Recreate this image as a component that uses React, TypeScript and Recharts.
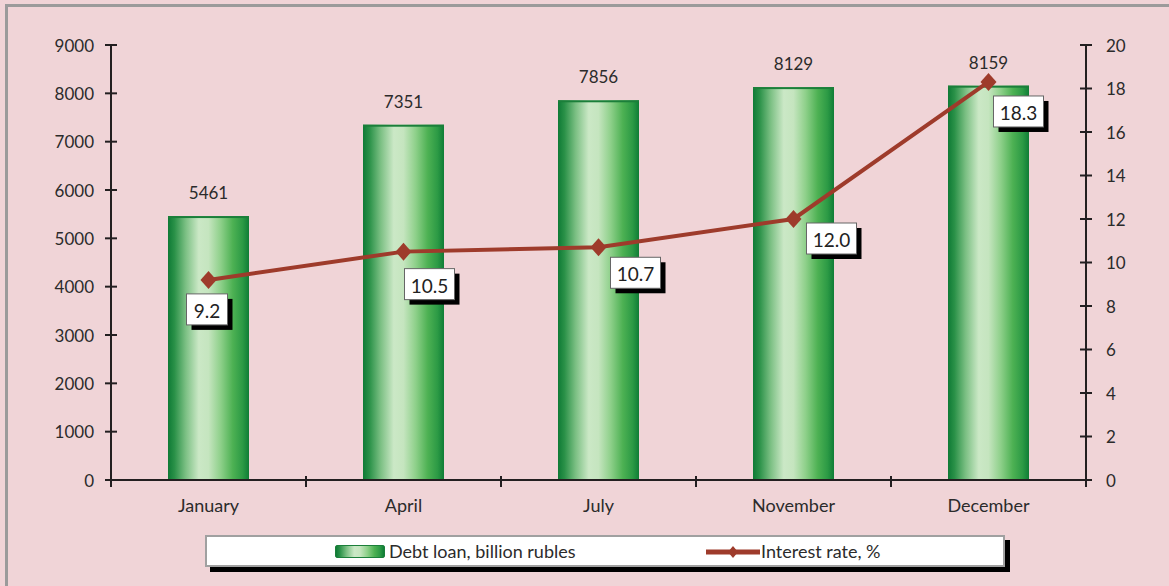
import React from 'react';
import { ComposedChart, Bar, Line, XAxis, YAxis, LabelList, Legend } from 'recharts';

const months = ['January', 'April', 'July', 'November', 'December'];
const debtLoan = [5461, 7351, 7856, 8129, 8159];
const interestRate = [9.2, 10.5, 10.7, 12.0, 18.3];
const leftTicks = [0, 1000, 2000, 3000, 4000, 5000, 6000, 7000, 8000, 9000];
const rightTicks = [0, 2, 4, 6, 8, 10, 12, 14, 16, 18, 20];

const data = months.map((m, i) => ({ month: m, debt: debtLoan[i], rate: interestRate[i] }));

// layout / style constants
const W = 1169;
const H = 586;
const PLOT_LEFT = 111;
const PLOT_RIGHT = 1086;
const PLOT_BOTTOM = 480;
const FONT = 'Lato, "Open Sans", sans-serif';
const BG = '#F0D4D7';
const LINE = '#9E3B2B';
const AXIS = '#231F20';
const TEXT = '#2B2B2B';
const LABEL_OFFSETS = [[-22, 14], [1, 17], [12, 10], [13, 4], [5, 14]];

const LeftTick = (props: any) => {
  const { y, payload } = props;
  return (
    <g>
      <line x1={PLOT_LEFT - 6} x2={PLOT_LEFT + 6} y1={y} y2={y} stroke={AXIS} strokeWidth={2} />
      <text x={PLOT_LEFT - 17} y={y} textAnchor="end" dominantBaseline="central" fontSize={17} fontFamily={FONT} fill={TEXT}>
        {payload.value}
      </text>
    </g>
  );
};

const RightTick = (props: any) => {
  const { y, payload } = props;
  return (
    <g>
      <line x1={PLOT_RIGHT - 6} x2={PLOT_RIGHT + 6} y1={y} y2={y} stroke={AXIS} strokeWidth={2} />
      <text x={PLOT_RIGHT + 20} y={y} textAnchor="start" dominantBaseline="central" fontSize={17} fontFamily={FONT} fill={TEXT}>
        {payload.value}
      </text>
    </g>
  );
};

const BottomTick = (props: any) => {
  const { x, payload, index } = props;
  const half = (PLOT_RIGHT - PLOT_LEFT) / months.length / 2;
  return (
    <g>
      <line x1={x + half} x2={x + half} y1={PLOT_BOTTOM - 4} y2={PLOT_BOTTOM + 7} stroke={AXIS} strokeWidth={2} />
      {index === 0 && (
        <line x1={x - half} x2={x - half} y1={PLOT_BOTTOM} y2={PLOT_BOTTOM + 7} stroke={AXIS} strokeWidth={2} />
      )}
      <text x={x} y={PLOT_BOTTOM + 25} textAnchor="middle" dominantBaseline="central" fontSize={18} fontFamily={FONT} fill={TEXT}>
        {payload.value}
      </text>
    </g>
  );
};

const BarShape = (props: any) => {
  const { x, y, width, height } = props;
  return (
    <g>
      <rect x={x} y={y} width={width} height={height} fill="url(#barGrad)" />
      <rect x={x} y={y} width={width} height={2} fill="#1B7F3A" />
    </g>
  );
};

const Diamond = (props: any) => {
  const { cx, cy } = props;
  if (cx == null || cy == null) return null;
  return <path d={`M${cx},${cy - 9}L${cx + 8},${cy}L${cx},${cy + 9}L${cx - 8},${cy}Z`} fill={LINE} />;
};

const RateLabel = (props: any) => {
  const { x, y, value } = props;
  let idx = props.index;
  if (idx == null) idx = interestRate.indexOf(Number(value));
  const off = LABEL_OFFSETS[idx] || [5, 10];
  const text = Number(value).toFixed(1);
  const w = text.length * 9 + 14;
  const h = 31;
  const bx = x + off[0];
  const by = y + off[1];
  return (
    <g>
      <rect x={bx + 5} y={by + 5} width={w} height={h} fill="#000" />
      <rect x={bx} y={by} width={w} height={h} fill="#fff" stroke="#666" strokeWidth={1} />
      <text x={bx + w / 2} y={by + h / 2 + 1} textAnchor="middle" dominantBaseline="central" fontSize={19} fontFamily={FONT} fill="#222">
        {text}
      </text>
    </g>
  );
};

const barGradientCss =
  'linear-gradient(to right, #0E7A35 0%, #2A9148 8%, #7CC084 22%, #CBE8C6 38%, #C5E5BF 50%, #8ED08A 65%, #4DB153 80%, #2C9A45 92%, #0F7D36 100%)';

const LegendBox = () => (
  <div style={{ position: 'relative', width: 805, height: 38, fontFamily: FONT }}>
    <div
      style={{
        position: 'absolute',
        left: 0,
        top: 0,
        width: 800,
        height: 32,
        background: '#fff',
        border: '2px solid #A0A0A0',
        boxSizing: 'border-box',
        boxShadow: '5px 5px 0 #000',
      }}
    />
    <div
      style={{
        position: 'absolute',
        left: 130,
        top: 10,
        width: 50,
        height: 13,
        background: barGradientCss,
        borderRadius: 2,
        border: '1px solid #1B7F3A',
        boxSizing: 'border-box',
      }}
    />
    <div style={{ position: 'absolute', left: 184, top: 5, fontSize: 18, color: TEXT, whiteSpace: 'nowrap', lineHeight: '22px' }}>
      Debt loan, billion rubles
    </div>
    <svg style={{ position: 'absolute', left: 501, top: 9 }} width={54} height={16}>
      <line x1={0} x2={54} y1={8} y2={8} stroke={LINE} strokeWidth={5} strokeLinecap="round" />
      <path d="M27,2L32,8L27,14L22,8Z" fill={LINE} />
    </svg>
    <div style={{ position: 'absolute', left: 556, top: 5, fontSize: 18, color: TEXT, whiteSpace: 'nowrap', lineHeight: '22px' }}>
      Interest rate, %
    </div>
  </div>
);

export default function App() {
  return (
    <div
      style={{
        position: 'absolute',
        left: 0,
        top: 0,
        width: W,
        height: H,
        background: BG,
        overflow: 'hidden',
        fontFamily: FONT,
      }}
    >
      <div
        style={{
          position: 'absolute',
          left: 5,
          top: 4,
          width: 1300,
          height: 800,
          borderLeft: '3px solid #9B9B9B',
          borderTop: '3px solid #9B9B9B',
        }}
      />
      <ComposedChart width={W} height={H} data={data} margin={{ top: 45, right: 0, bottom: 13, left: 0 }}>
        <defs>
          <linearGradient id="barGrad" x1="0" y1="0" x2="1" y2="0">
            <stop offset="0%" stopColor="#0E7A35" />
            <stop offset="8%" stopColor="#2A9148" />
            <stop offset="22%" stopColor="#7CC084" />
            <stop offset="38%" stopColor="#CBE8C6" />
            <stop offset="50%" stopColor="#C5E5BF" />
            <stop offset="65%" stopColor="#8ED08A" />
            <stop offset="80%" stopColor="#4DB153" />
            <stop offset="92%" stopColor="#2C9A45" />
            <stop offset="100%" stopColor="#0F7D36" />
          </linearGradient>
        </defs>
        <XAxis
          dataKey="month"
          interval={0}
          height={55}
          axisLine={{ stroke: AXIS, strokeWidth: 2 }}
          tickLine={false}
          tick={<BottomTick />}
        />
        <YAxis
          yAxisId="left"
          orientation="left"
          width={PLOT_LEFT}
          domain={[0, 9000]}
          ticks={leftTicks}
          interval={0}
          axisLine={{ stroke: AXIS, strokeWidth: 2 }}
          tickLine={false}
          tick={<LeftTick />}
        />
        <YAxis
          yAxisId="right"
          orientation="right"
          width={W - PLOT_RIGHT}
          domain={[0, 20]}
          ticks={rightTicks}
          interval={0}
          axisLine={{ stroke: AXIS, strokeWidth: 2 }}
          tickLine={false}
          tick={<RightTick />}
        />
        <Legend
          verticalAlign="bottom"
          align="left"
          height={38}
          wrapperStyle={{ left: 205, width: 805 }}
          content={() => <LegendBox />}
        />
        <Bar
          yAxisId="left"
          dataKey="debt"
          name="Debt loan, billion rubles"
          barSize={81}
          shape={<BarShape />}
          isAnimationActive={false}
        >
          <LabelList dataKey="debt" position="top" offset={17} fontSize={17} fontFamily={FONT} fill={TEXT} />
        </Bar>
        <Line
          yAxisId="right"
          dataKey="rate"
          name="Interest rate, %"
          stroke={LINE}
          strokeWidth={4}
          dot={<Diamond />}
          activeDot={false}
          isAnimationActive={false}
        >
          <LabelList dataKey="rate" content={<RateLabel />} />
        </Line>
      </ComposedChart>
    </div>
  );
}
